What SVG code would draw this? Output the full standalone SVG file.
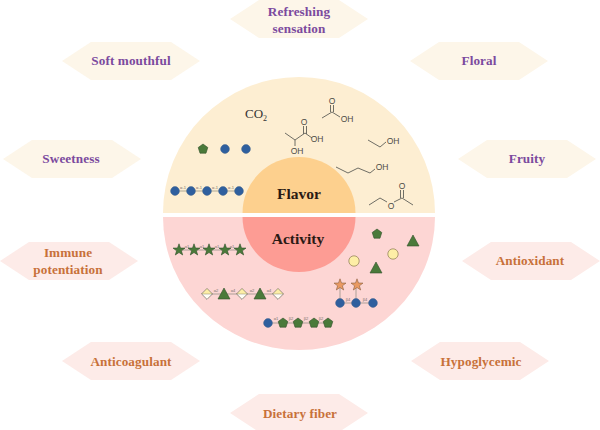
<svg xmlns="http://www.w3.org/2000/svg" width="600" height="430" viewBox="0 0 600 430">
<style>
text{font-family:"Liberation Serif","Times New Roman",serif}
.lab{font-size:13.2px;font-weight:700;text-anchor:middle;letter-spacing:.1px}
.fl{fill:#7b4a9e}.ac{fill:#c8713a}
.hexf{fill:#fdf6e9}.hexa{fill:#fdebe8}
.big{font-size:15.5px;font-weight:700;text-anchor:middle;fill:#2a1a14}
.bond{fill:none;stroke:#5f5f58;stroke-width:.9}
.chem{font-family:"Liberation Sans",Arial,sans-serif;font-size:8.5px;fill:#4c4c46;text-anchor:middle}
.link{stroke:#8a8a80;stroke-width:.7}
.tiny{font-family:"Liberation Sans",Arial,sans-serif;font-size:4px;fill:#77706c;text-anchor:middle}
.blue{fill:#2f5f9e;stroke:#3a5f8a;stroke-width:.5}
.green{fill:#4a7a3a;stroke:#33502c;stroke-width:.6}
.yel{fill:#fdeea6;stroke:#8a7a50;stroke-width:.7}
.org{fill:#ea9a62;stroke:#8a6040;stroke-width:.6}
</style>
<defs>
<polygon id="hex" points="0,19 29,0 109,0 138,19 109,38 29,38"/>
<circle id="glc" r="4.400" class="blue"/>
<polygon id="pent" class="green" points="0,-5 4.800,-1.500 3,4.200 -3,4.200 -4.800,-1.500"/>
<polygon id="tri" class="green" points="0,-6 6,5 -6,5"/>
<polygon id="star" class="green" points="0,-6.200 1.500,-2 6,-1.900 2.400,.8 3.700,5 0,2.500 -3.700,5 -2.400,.8 -6,-1.900 -1.500,-2"/>
<polygon id="ostar" class="org" points="0,-6.200 1.500,-2 6,-1.900 2.400,.8 3.700,5 0,2.500 -3.700,5 -2.400,.8 -6,-1.900 -1.500,-2"/>
<g id="dia"><polygon points="0,-5.400 5.400,0 0,5.400 -5.400,0" fill="#fffdf5" stroke="#6a6458" stroke-width=".7"/><polygon points="-5.400,0 5.400,0 0,-5.400" fill="#fdeea6" stroke="#6a6458" stroke-width=".4"/></g>
</defs>

<!-- central disc -->
<g id="flavor-half">
<path d="M163 213A136 136 0 0 1 435 213Z" fill="#fdeed2"/>
<path d="M242.500 213A56.500 56 0 0 1 355.500 213Z" fill="#fdd08e"/>
<text class="big" x="299" y="199">Flavor</text>
</g>
<g id="activity-half">
<path d="M163 217A136 133 0 0 0 435 217Z" fill="#fdd6d4"/>
<path d="M242.500 217A56.500 55 0 0 0 355.500 217Z" fill="#fd9c94"/>
<text class="big" x="298" y="244">Activity</text>
</g>

<!-- flavor compounds -->
<g id="co2"><text x="245" y="118" font-size="13" fill="#333">CO<tspan font-size="8" dy="3">2</tspan></text></g>
<g id="acetic-acid"><path class="bond" d="M322 118L332 112L340 117M330.500 112V105M333.500 112V105"/><text class="chem" x="332" y="104">O</text><text class="chem" x="347" y="122">OH</text></g>
<g id="lactic-acid"><path class="bond" d="M285 133L295 140L305 133L312 138M295 140V146M303.500 134V126M306.500 134V126"/><text class="chem" x="304" y="125">O</text><text class="chem" x="317" y="142">OH</text><text class="chem" x="297" y="154">OH</text></g>
<g id="ethanol"><path class="bond" d="M368 140L380 147L386 142"/><text class="chem" x="393" y="144">OH</text></g>
<g id="butanol"><path class="bond" d="M336 167L348 173L358 168L370 173L375 169"/><text class="chem" x="382" y="170">OH</text></g>
<g id="ethyl-acetate"><path class="bond" d="M369 205L380 198L387 202M394 202L402 198L413 205M400.500 198V190M403.500 198V190"/><text class="chem" x="391" y="209">O</text><text class="chem" x="402" y="189">O</text></g>

<g id="glycan-trio"><use href="#pent" x="203" y="149"/><use href="#glc" x="225" y="149"/><use href="#glc" x="246" y="149"/></g>
<g id="glucan-chain">
<path class="link" d="M175 191H239"/>
<use href="#glc" x="175" y="191"/><use href="#glc" x="191" y="191"/><use href="#glc" x="207" y="191"/><use href="#glc" x="223" y="191"/><use href="#glc" x="239" y="191"/>
<text class="tiny" x="183" y="189">α-1</text><text class="tiny" x="199" y="189">α-1</text><text class="tiny" x="215" y="189">α-1</text><text class="tiny" x="231" y="189">α-1</text>
</g>

<!-- activity glycans -->
<g id="star-chain">
<path class="link" d="M179 250H240"/>
<use href="#star" x="179" y="250"/><use href="#star" x="194" y="250"/><use href="#star" x="209" y="250"/><use href="#star" x="225" y="250"/><use href="#star" x="240" y="250"/>
<text class="tiny" x="187" y="248">α1</text><text class="tiny" x="202" y="248">α1</text><text class="tiny" x="217" y="248">α1</text><text class="tiny" x="232" y="248">α1</text>
</g>
<g id="mixed-chain">
<path class="link" d="M207 294H278"/>
<use href="#dia" x="207" y="294"/><use href="#tri" x="224" y="294"/><use href="#dia" x="242" y="294"/><use href="#tri" x="260" y="294"/><use href="#dia" x="278" y="294"/>
<text class="tiny" x="216" y="292">α2</text><text class="tiny" x="233" y="292">α4</text><text class="tiny" x="252" y="292">α2</text><text class="tiny" x="269" y="292">α4</text>
</g>
<g id="pentose-chain">
<path class="link" d="M268 323H328"/>
<use href="#glc" x="268" y="323"/><use href="#pent" x="283" y="323"/><use href="#pent" x="298" y="323"/><use href="#pent" x="314" y="323"/><use href="#pent" x="328" y="323"/>
<text class="tiny" x="276" y="320">α1</text><text class="tiny" x="291" y="320">β2</text><text class="tiny" x="306" y="320">β2</text><text class="tiny" x="321" y="320">β2</text>
</g>
<g id="branched-glycan">
<path class="link" d="M340 303V285M356 303V285M340 303H373"/>
<use href="#ostar" x="340" y="285"/><use href="#ostar" x="357" y="285"/>
<use href="#glc" x="340" y="303"/><use href="#glc" x="356" y="303"/><use href="#glc" x="373" y="303"/>
<text class="tiny" x="348" y="301">β4</text><text class="tiny" x="365" y="301">β4</text>
</g>
<g id="free-sugars">
<use href="#pent" x="377" y="234"/><use href="#tri" x="413" y="241"/><use href="#tri" x="376" y="268"/>
<circle class="yel" cx="354" cy="261" r="5.200"/><circle class="yel" cx="393" cy="254" r="5.200"/>
</g>

<!-- flavor attributes -->
<g id="refreshing"><use href="#hex" class="hexf" x="230" y="0"/><text class="lab fl" x="299" y="16">Refreshing</text><text class="lab fl" x="299" y="33">sensation</text></g>
<g id="soft-mouthful"><use href="#hex" class="hexf" x="62" y="42"/><text class="lab fl" x="131" y="65">Soft mouthful</text></g>
<g id="floral"><use href="#hex" class="hexf" x="410" y="42"/><text class="lab fl" x="479" y="65">Floral</text></g>
<g id="sweetness"><use href="#hex" class="hexf" x="3" y="140"/><text class="lab fl" x="71" y="163">Sweetness</text></g>
<g id="fruity"><use href="#hex" class="hexf" x="458" y="140"/><text class="lab fl" x="527" y="163">Fruity</text></g>

<!-- activity attributes -->
<g id="immune"><use href="#hex" class="hexa" x="0" y="242"/><text class="lab ac" x="68" y="257">Immune</text><text class="lab ac" x="68" y="274">potentiation</text></g>
<g id="antioxidant"><use href="#hex" class="hexa" x="462" y="242"/><text class="lab ac" x="530" y="265">Antioxidant</text></g>
<g id="anticoagulant"><use href="#hex" class="hexa" x="62" y="342"/><text class="lab ac" x="131" y="366">Anticoagulant</text></g>
<g id="hypoglycemic"><use href="#hex" class="hexa" x="411" y="342"/><text class="lab ac" x="481" y="366">Hypoglycemic</text></g>
<g id="dietary-fiber"><use href="#hex" class="hexa" x="230" y="394"/><text class="lab ac" x="300" y="418">Dietary fiber</text></g>
</svg>
